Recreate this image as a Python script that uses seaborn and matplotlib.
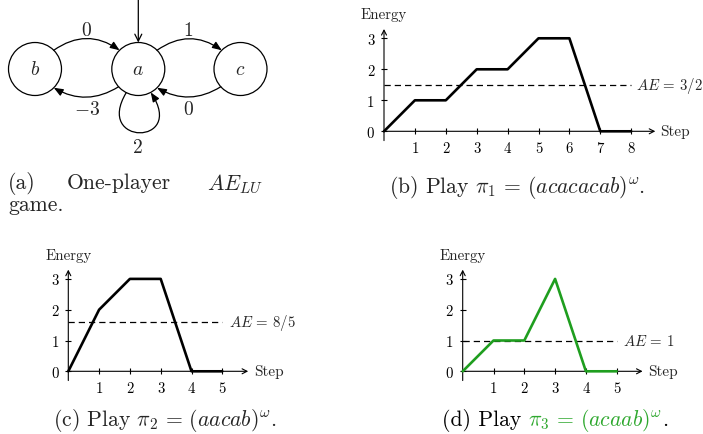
import numpy as np
import matplotlib
matplotlib.use("Agg")
import matplotlib.pyplot as plt
import matplotlib.patches as mpatches
from matplotlib.path import Path
import seaborn as sns
import pandas as pd

# ---------------- data ----------------
steps_b = [0, 1, 2, 3, 4, 5, 6, 7, 8]
energy_b = [0, 1, 1, 2, 2, 3, 3, 0, 0]
ae_b = 1.5
ae_b_label = r"$AE\,=\,3/2$"

steps_c = [0, 1, 2, 3, 4, 5]
energy_c = [0, 2, 3, 3, 0, 0]
ae_c = 1.6
ae_c_label = r"$AE\,=\,8/5$"

steps_d = [0, 1, 2, 3, 4, 5]
energy_d = [0, 1, 1, 3, 0, 0]
ae_d = 1.0
ae_d_label = r"$AE\,=\,1$"

energy_ticks = [0, 1, 2, 3]

node_names = ["b", "a", "c"]
edge_weights = {"b->a": "0", "a->c": "1", "a->b": r"$-3$", "c->a": "0", "a->a": "2"}

GREEN_LINE = "#1f9e1f"
GREEN_TEXT = "#2ea82e"

# ---------------- style ----------------
sns.set_style("white")
plt.rcParams["font.family"] = ["cmr10", "DejaVu Serif"]
plt.rcParams["mathtext.fontset"] = "cm"
plt.rcParams["axes.unicode_minus"] = False

W, H = 703, 435
fig = plt.figure(figsize=(W / 100, H / 100), dpi=100)
fig.patch.set_facecolor("white")


def fx(x):
    return x / W


def fy(y):
    return 1 - y / H


def make_axes(x0, y0, ux, uy, xlim, ylim):
    left = x0 + xlim[0] * ux
    right = x0 + xlim[1] * ux
    top = y0 - ylim[1] * uy
    bottom = y0 - ylim[0] * uy
    ax = fig.add_axes([left / W, 1 - bottom / H, (right - left) / W, (bottom - top) / H])
    ax.set_xlim(*xlim)
    ax.set_ylim(*ylim)
    ax.patch.set_alpha(0)
    return ax


def energy_plot(ax, steps, energy, ae, ae_label, xarrow, ae_x, step_x, color, nsteps):
    df = pd.DataFrame({"Step": steps, "Energy": energy})
    sns.lineplot(data=df, x="Step", y="Energy", ax=ax, color=color, lw=1.9,
                 legend=False, zorder=3)
    ax.hlines(ae, 0, nsteps, colors="black", linestyles=(0, (5, 3.2)), lw=0.9, zorder=2)
    for s in ax.spines.values():
        s.set_visible(False)
    ax.spines["bottom"].set_position(("data", 0))
    ax.spines["left"].set_position(("data", 0))
    ax.annotate("", xy=(xarrow, 0), xytext=(-0.02, 0),
                arrowprops=dict(arrowstyle="->,head_length=0.35,head_width=0.18",
                                lw=0.8, color="black", shrinkA=0, shrinkB=0), zorder=1)
    ax.annotate("", xy=(0, 3.3), xytext=(0, -0.3),
                arrowprops=dict(arrowstyle="->,head_length=0.35,head_width=0.18",
                                lw=0.8, color="black", shrinkA=0, shrinkB=0), zorder=1)
    ax.set_xticks(list(range(1, nsteps + 1)))
    ax.set_xticklabels([str(i) for i in range(1, nsteps + 1)])
    ax.set_yticks(energy_ticks)
    ax.set_yticklabels([str(i) for i in energy_ticks])
    ax.tick_params(axis="both", direction="inout", length=4, width=0.8,
                   labelsize=10.7, pad=5, colors="black")
    ax.tick_params(axis="x", bottom=True, pad=5)
    ax.tick_params(axis="y", left=True)
    ax.set_xlabel("")
    ax.set_ylabel("")
    ax.text(0, 3.78, "Energy", ha="center", va="center", fontsize=10.8)
    ax.text(step_x, 0, "Step", ha="left", va="center", fontsize=11)
    ax.text(ae_x, ae, ae_label, ha="left", va="center", fontsize=10.7)


# (b)
ax_b = make_axes(384, 132.3, 30.9, 31.0, (-0.6, 10.3), (-0.45, 4.1))
energy_plot(ax_b, steps_b, energy_b, ae_b, ae_b_label, 8.78, 8.17, 8.93, "black", 8)

# (c)
ax_c = make_axes(68.3, 372.3, 30.8, 30.8, (-0.6, 7.3), (-0.45, 4.1))
energy_plot(ax_c, steps_c, energy_c, ae_c, ae_c_label, 5.84, 5.22, 6.03, "black", 5)

# (d)
ax_d = make_axes(462.7, 372.3, 30.8, 30.8, (-0.6, 7.3), (-0.45, 4.1))
energy_plot(ax_d, steps_d, energy_d, ae_d, ae_d_label, 5.84, 5.2, 6.03, GREEN_LINE, 5)

# (a) graph
ax_g = fig.add_axes([0, 1 - 160 / H, 300 / W, 160 / H])
ax_g.set_xlim(0, 300)
ax_g.set_ylim(160, 0)
ax_g.axis("off")
R = 26.5
centers = {"b": (35, 70), "a": (138.3, 70), "c": (240.5, 70)}
for n in node_names:
    cx, cy = centers[n]
    ax_g.add_patch(mpatches.Circle((cx, cy), R, fill=False, lw=0.9, ec="black"))
    ax_g.text(cx, cy, "$" + n + "$", ha="center", va="center", fontsize=14)


def pt(node, ang):
    cx, cy = centers[node]
    a = np.deg2rad(ang)
    return (cx + R * np.cos(a), cy - R * np.sin(a))


astyle = "-|>,head_length=0.55,head_width=0.22"
# b -> a (top)
ax_g.add_patch(mpatches.FancyArrowPatch(pt("b", 45), pt("a", 135), connectionstyle="arc3,rad=-0.35",
                                        arrowstyle=astyle, mutation_scale=10, lw=0.9, color="black",
                                        shrinkA=0, shrinkB=0))
# a -> c (top)
ax_g.add_patch(mpatches.FancyArrowPatch(pt("a", 45), pt("c", 135), connectionstyle="arc3,rad=-0.35",
                                        arrowstyle=astyle, mutation_scale=10, lw=0.9, color="black",
                                        shrinkA=0, shrinkB=0))
# a -> b (bottom)
ax_g.add_patch(mpatches.FancyArrowPatch(pt("a", 222), pt("b", -45), connectionstyle="arc3,rad=-0.3",
                                        arrowstyle=astyle, mutation_scale=10, lw=0.9, color="black",
                                        shrinkA=0, shrinkB=0))
# c -> a (bottom)
ax_g.add_patch(mpatches.FancyArrowPatch(pt("c", 222), pt("a", -45), connectionstyle="arc3,rad=-0.3",
                                        arrowstyle=astyle, mutation_scale=10, lw=0.9, color="black",
                                        shrinkA=0, shrinkB=0))
# self loop
s0 = pt("a", 243)
s1 = pt("a", 298)
loop = Path([s0, (94, 147), (186, 147), s1],
            [Path.MOVETO, Path.CURVE4, Path.CURVE4, Path.CURVE4])
ax_g.add_patch(mpatches.FancyArrowPatch(path=loop, arrowstyle=astyle, mutation_scale=10,
                                        lw=0.9, color="black", shrinkA=0, shrinkB=0))
# initial arrow
ax_g.add_patch(mpatches.FancyArrowPatch((138.3, 1), (138.3, 70 - R), arrowstyle="->,head_length=0.5,head_width=0.25",
                                        mutation_scale=10, lw=0.9, color="black", shrinkA=0, shrinkB=0))
# edge labels
EL = 14
ax_g.text(86, 31, edge_weights["b->a"], ha="center", va="center", fontsize=EL)
ax_g.text(188, 31, edge_weights["a->c"], ha="center", va="center", fontsize=EL)
ax_g.text(87, 110, edge_weights["a->b"], ha="center", va="center", fontsize=EL)
ax_g.text(188, 110, edge_weights["c->a"], ha="center", va="center", fontsize=EL)
ax_g.text(138, 148, edge_weights["a->a"], ha="center", va="center", fontsize=EL)

# captions
CAP = 15.6
fig.text(fx(8), fy(189), "(a)", fontsize=CAP, va="baseline", ha="left")
fig.text(fx(67), fy(189), "One-player", fontsize=CAP, va="baseline", ha="left")
fig.text(fx(263), fy(189), r"$AE_{LU}$", fontsize=CAP, va="baseline", ha="right")
fig.text(fx(8), fy(211), "game.", fontsize=CAP, va="baseline", ha="left")

fig.text(fx(517.5), fy(193), r"(b) Play $\pi_1\,=\,(acacacab)^{\omega}$.", fontsize=CAP,
         va="baseline", ha="center")
fig.text(fx(165), fy(426), r"(c) Play $\pi_2\,=\,(aacab)^{\omega}$.", fontsize=CAP,
         va="baseline", ha="center")

# (d) caption with a green part
renderer = fig.canvas.get_renderer()
parts = [("(d) Play ", "black"), (r"$\pi_3\,=\,(acaab)^{\omega}$", GREEN_TEXT), (".", "black")]
tmp = [fig.text(0, 0, p, fontsize=CAP, va="baseline") for p, _ in parts]
widths = [t.get_window_extent(renderer).width for t in tmp]
for t in tmp:
    t.remove()
x = 555 - sum(widths) / 2
for (p, c), w in zip(parts, widths):
    fig.text(fx(x), fy(426), p, fontsize=CAP, va="baseline", ha="left", color=c)
    x += w

fig.savefig("out.png", dpi=100, facecolor="white")
